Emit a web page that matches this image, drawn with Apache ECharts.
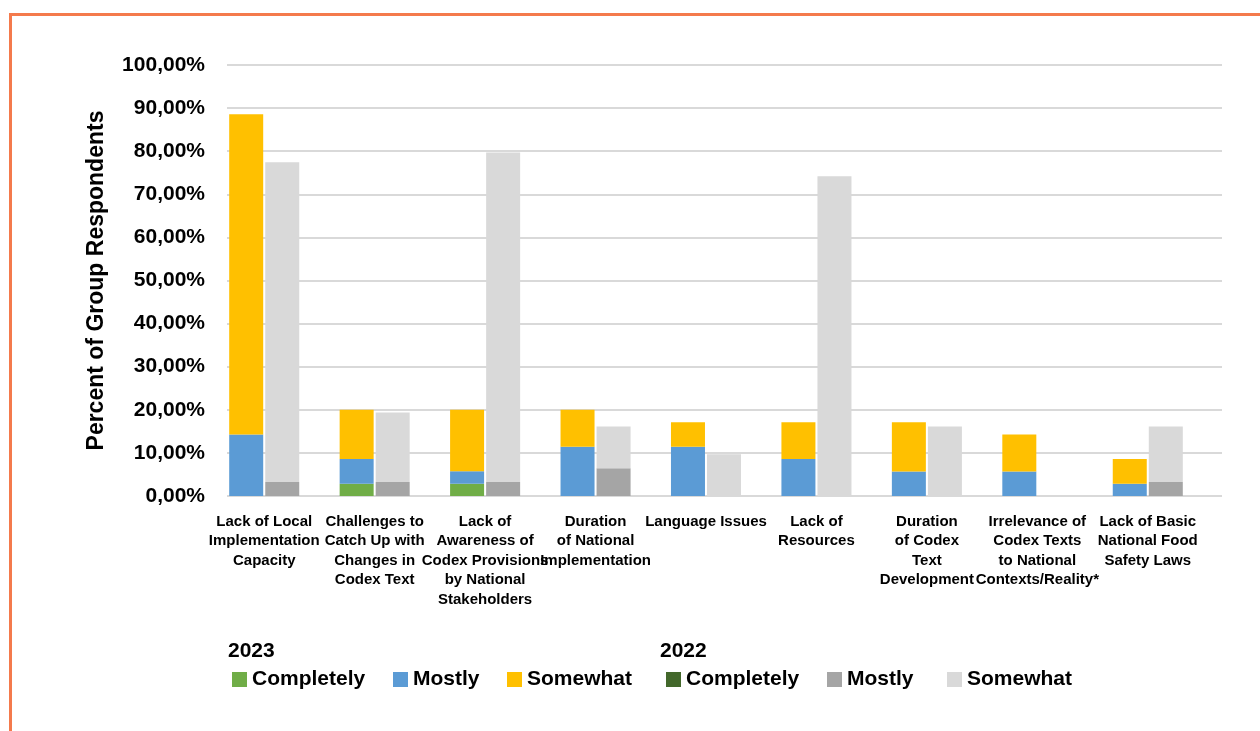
<!DOCTYPE html>
<html>
<head>
<meta charset="utf-8">
<script src="https://cdn.jsdelivr.net/npm/echarts@6/dist/echarts.min.js"></script>
<style>
  html, body { margin: 0; padding: 0; background: #fff; }
  #chart { width: 1260px; height: 731px; }
  #frame {
    position: absolute; left: 9px; top: 13px; right: 0; bottom: 0;
    border-top: 3px solid #f47a4c; border-left: 3px solid #f47a4c;
    pointer-events: none;
  }
</style>
</head>
<body>
<div id="chart"></div>
<div id="frame"></div>
<script>
// categories (line breaks as in the source chart)
var categories = [
  'Lack of Local\nImplementation\nCapacity',
  'Challenges to\nCatch Up with\nChanges in\nCodex Text',
  'Lack of\nAwareness of\nCodex Provisions\nby National\nStakeholders',
  'Duration\nof National\nImplementation',
  'Language Issues',
  'Lack of\nResources',
  'Duration\nof Codex\nText\nDevelopment',
  'Irrelevance of\nCodex Texts\nto National\nContexts/Reality*',
  'Lack of Basic\nNational Food\nSafety Laws'
];

// percent of group respondents, 2023
var completely2023 = [0, 2.86, 2.86, 0, 0, 0, 0, 0, 0];
var mostly2023     = [14.29, 5.71, 2.86, 11.43, 11.43, 8.57, 5.71, 5.71, 2.86];
var somewhat2023   = [74.29, 11.43, 14.29, 8.57, 5.71, 8.57, 11.43, 8.57, 5.71];

// percent of group respondents, 2022
var completely2022 = [0, 0, 0, 0, 0, 0, 0, 0, 0];
var mostly2022     = [3.23, 3.23, 3.23, 6.45, 0, 0, 0, 0, 3.23];
var somewhat2022   = [74.19, 16.13, 76.45, 9.68, 9.68, 74.19, 16.13, 0, 12.90];

var FONT = 'Liberation Sans';

function bar(name, stack, data, color) {
  return {
    name: name,
    type: 'bar',
    stack: stack,
    xAxisIndex: 1,
    yAxisIndex: 1,
    barWidth: 34,
    barGap: '6%',
    itemStyle: { color: color },
    data: data
  };
}

function legendAt(left, name) {
  return {
    left: left,
    top: 669,
    padding: 0,
    itemWidth: 15,
    itemHeight: 15,
    icon: 'rect',
    selectedMode: false,
    data: [name],
    formatter: function (n) { return n.split(' ')[1]; },
    textStyle: { fontFamily: FONT, fontSize: 21, fontWeight: 'bold', color: '#000' }
  };
}

var myChart = echarts.init(document.getElementById('chart'));
var option = {
  animation: false,
  backgroundColor: '#fff',
  title: [
    { text: '2023', left: 228, top: 641, padding: 0,
      textStyle: { fontFamily: FONT, fontSize: 21, fontWeight: 'bold', color: '#000' } },
    { text: '2022', left: 660, top: 641, padding: 0,
      textStyle: { fontFamily: FONT, fontSize: 21, fontWeight: 'bold', color: '#000' } }
  ],
  legend: [
    legendAt(232, '2023 Completely'),
    legendAt(393, '2023 Mostly'),
    legendAt(507, '2023 Somewhat'),
    legendAt(666, '2022 Completely'),
    legendAt(827, '2022 Mostly'),
    legendAt(947, '2022 Somewhat')
  ],
  grid: [
    // gridlines + value labels
    { left: 227, right: 38, top: 65, height: 431 },
    // bars + category labels
    { left: 209, right: 57, top: 65, height: 431 }
  ],
  xAxis: [
    { type: 'category', gridIndex: 0, data: categories, show: false },
    {
      type: 'category', gridIndex: 1, data: categories,
      axisLine: { show: false }, axisTick: { show: false },
      axisLabel: {
        interval: 0, margin: 16,
        fontFamily: FONT, fontSize: 15, fontWeight: 'bold', lineHeight: 19.5, color: '#000'
      }
    }
  ],
  yAxis: [
    {
      type: 'value', gridIndex: 0, min: 0, max: 100, interval: 10,
      name: 'Percent of Group Respondents',
      nameLocation: 'middle', nameGap: 119,
      nameTextStyle: { fontFamily: FONT, fontSize: 23, fontWeight: 'bold', color: '#000' },
      axisLine: { show: false }, axisTick: { show: false },
      axisLabel: {
        margin: 22, fontFamily: FONT, fontSize: 21, fontWeight: 'bold', color: '#000',
        formatter: function (v) { return v.toFixed(2).replace('.', ',') + '%'; }
      },
      splitLine: { lineStyle: { color: '#d9d9d9', width: 2 } }
    },
    { type: 'value', gridIndex: 1, min: 0, max: 100, show: false }
  ],
  // stack ids are not plain numbers, otherwise they get sorted and 2022 comes first
  series: [
    bar('2023 Completely', 'y2023', completely2023, '#70ad47'),
    bar('2023 Mostly', 'y2023', mostly2023, '#5b9bd5'),
    bar('2023 Somewhat', 'y2023', somewhat2023, '#ffc000'),
    bar('2022 Completely', 'y2022', completely2022, '#43682b'),
    bar('2022 Mostly', 'y2022', mostly2022, '#a5a5a5'),
    bar('2022 Somewhat', 'y2022', somewhat2022, '#d9d9d9')
  ]
};
myChart.setOption(option);
</script>
</body>
</html>
